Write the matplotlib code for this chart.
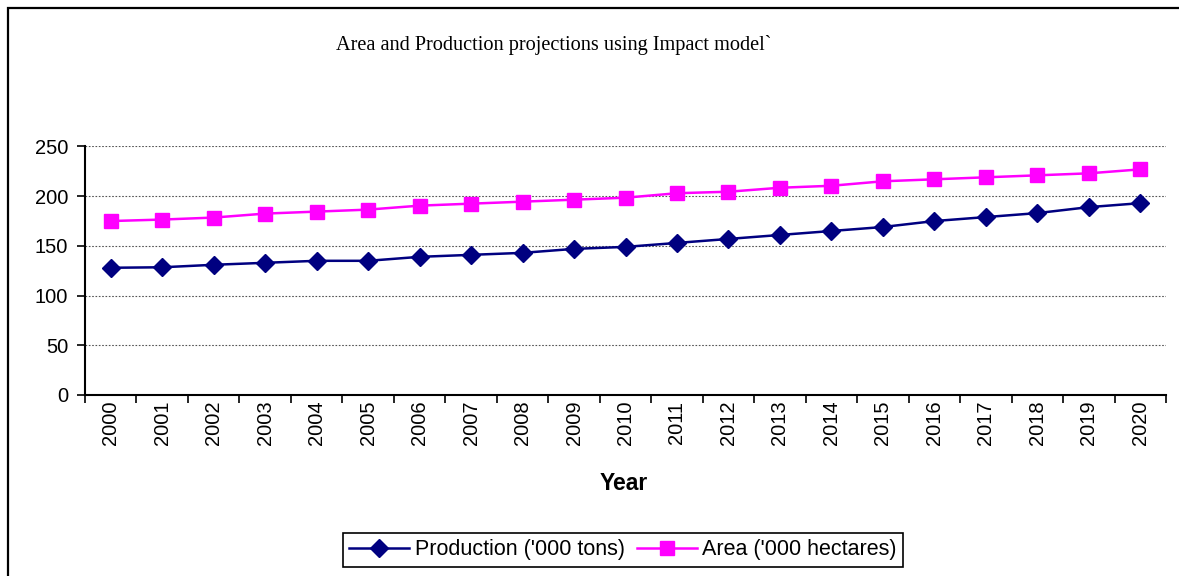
import matplotlib
matplotlib.use("Agg")
import matplotlib.pyplot as plt
from matplotlib.patches import Rectangle
from matplotlib.ticker import FixedLocator, NullFormatter

years = [str(y) for y in range(2000, 2021)]
production = [128, 128.5, 131, 133, 135, 135, 139, 141, 143, 147, 149,
              153, 157, 161, 165, 169, 175, 179, 183, 189, 193]
area = [175, 176.5, 178.5, 182.5, 184.5, 186.5, 190.5, 192.5, 194.5, 196.5, 198.5,
        203, 204.5, 208.5, 210.5, 215, 217, 219, 221, 223, 227]
y_ticks = [0, 50, 100, 150, 200, 250]

W, H = 1179, 576
fig = plt.figure(figsize=(W / 100, H / 100), dpi=100)
fig.patch.set_facecolor("white")

# outer chart border (left and top edges visible)
fig.patches.append(Rectangle((8 / W, -0.2), 1.5, 1.2 - 8 / H,
                             transform=fig.transFigure, fill=False,
                             edgecolor="black", linewidth=1.6, zorder=0))

ax = fig.add_axes([85 / W, 1 - 395 / H, (1166 - 85) / W, (395 - 146.5) / H])
x = list(range(len(years)))

ax.plot(x, production, color="#000080", marker="D", markersize=9,
        linewidth=1.8, label="Production ('000 tons)", zorder=3)
ax.plot(x, area, color="#FF00FF", marker="s", markersize=9.5,
        linewidth=1.8, label="Area ('000 hectares)", zorder=3)

ax.set_xlim(-0.5, len(years) - 0.5)
ax.set_ylim(0, 250)
ax.set_yticks(y_ticks)
ax.set_yticklabels([str(v) for v in y_ticks], fontsize=14.5, family="Liberation Sans")

ax.set_xticks(x)
ax.set_xticklabels(years, rotation=90, fontsize=14.5, family="Liberation Sans")
ax.xaxis.set_minor_locator(FixedLocator([i - 0.5 for i in range(len(years) + 1)]))
ax.xaxis.set_minor_formatter(NullFormatter())
ax.tick_params(axis="x", which="major", length=0, pad=4)
ax.tick_params(axis="x", which="minor", length=6, width=1.2, direction="out")
ax.tick_params(axis="y", length=6, width=1.2, direction="out", pad=6)

ax.grid(axis="y", color="#555555", linestyle=(0, (1.5, 1.5)), linewidth=0.8)
ax.set_axisbelow(True)
for side in ("top", "right"):
    ax.spines[side].set_visible(False)
for side in ("left", "bottom"):
    ax.spines[side].set_linewidth(1.5)

fig.text(624 / W, 1 - 484 / H, "Year", ha="center", va="center",
         fontsize=16.5, fontweight="bold", family="Liberation Sans")

fig.text(554 / W, 1 - 45 / H, "Area and Production projections using Impact model`",
         ha="center", va="center", fontsize=14.6, family="Liberation Serif")

leg = fig.legend(loc="center", bbox_to_anchor=(623 / W, 1 - 550 / H), ncol=2,
                 prop={"family": "Liberation Sans", "size": 15.5},
                 handlelength=2.8, handletextpad=0.25, columnspacing=0.55,
                 borderpad=0.3, borderaxespad=0, fancybox=False, framealpha=1,
                 edgecolor="black")
leg.get_frame().set_linewidth(1.2)

fig.savefig("out.png", dpi=100, facecolor="white")
